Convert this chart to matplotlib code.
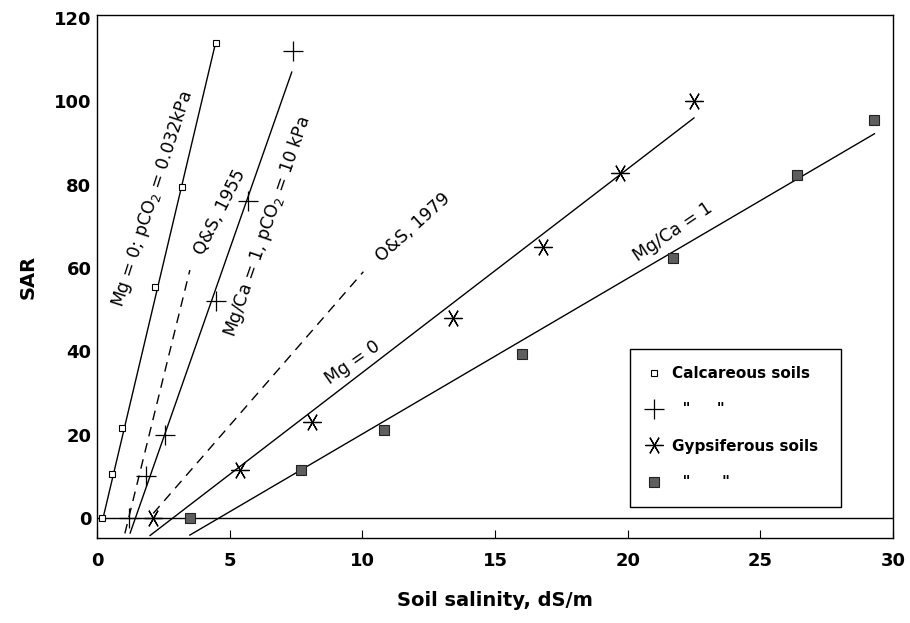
import matplotlib
matplotlib.use("Agg")
import matplotlib.pyplot as plt

plt.rcParams['font.family'] = ['DejaVu Sans']
plt.rcParams['mathtext.default'] = 'regular'

# ---- data ----
calc_sq_x = [0.2, 0.55, 0.95, 2.2, 3.2, 4.5]
calc_sq_y = [0, 10.5, 21.5, 55.5, 79.5, 114]
calc_plus_x = [1.2, 1.85, 2.55, 4.5, 5.7, 7.4]
calc_plus_y = [0, 10, 20, 52, 76, 112]
gyp_ast_x = [2.1, 5.4, 8.1, 13.4, 16.8, 19.7, 22.5]
gyp_ast_y = [0, 11.5, 23, 48, 65, 82.7, 100]
gyp_sq_x = [3.5, 7.7, 10.8, 16.0, 21.7, 26.4, 29.3]
gyp_sq_y = [0, 11.5, 21, 39.3, 62.5, 82.3, 95.4]

# fitted / reference lines (end points)
fit_calc_mg0_x = [0.24, 4.45]
fit_calc_mg0_y = [0.3, 113.5]
fit_calc_mgca_x = [1.25, 7.34]
fit_calc_mgca_y = [-3.6, 107]
qs1955_x = [1.05, 3.5]
qs1955_y = [-3.7, 59.5]
os1979_x = [2.12, 10.04]
os1979_y = [1.1, 59.1]
fit_gyp_mg0_x = [2.0, 22.5]
fit_gyp_mg0_y = [-4.2, 96]
fit_gyp_mgca_x = [3.5, 29.3]
fit_gyp_mgca_y = [-4.1, 92.2]

annot_text = ["Mg = 0; pCO$_2$ = 0.032kPa", "Q&S, 1955",
              "Mg/Ca = 1, pCO$_2$ = 10 kPa", "O&S, 1979", "Mg = 0", "Mg/Ca = 1"]
annot_x = [2.1, 4.64, 6.41, 11.9, 9.65, 21.7]
annot_y = [76.5, 73.4, 70.0, 69.8, 37.4, 68.6]
annot_rot = [72, 63, 71, 42, 35, 34]

x_ticks = [0, 5, 10, 15, 20, 25, 30]
y_ticks = [0, 20, 40, 60, 80, 100, 120]

legend_labels = ["Calcareous soils", '  "     "', "Gypsiferous soils ", '  "      "']

# ---- figure ----
fig = plt.figure(figsize=(9.1, 6.23), dpi=100)
ax = fig.add_axes([97/910, 1-538/623, 796/910, 523/623])

lw = 1.0
ax.axhline(0, color='black', lw=lw, zorder=1)
ax.plot(fit_calc_mg0_x, fit_calc_mg0_y, color='black', lw=lw)
ax.plot(fit_calc_mgca_x, fit_calc_mgca_y, color='black', lw=lw)
ax.plot(qs1955_x, qs1955_y, color='black', lw=lw, dashes=(7, 5))
ax.plot(os1979_x, os1979_y, color='black', lw=lw, dashes=(7, 5))
ax.plot(fit_gyp_mg0_x, fit_gyp_mg0_y, color='black', lw=lw)
ax.plot(fit_gyp_mgca_x, fit_gyp_mgca_y, color='black', lw=lw)

h1, = ax.plot(calc_sq_x, calc_sq_y, ls='none', marker='s', ms=4, mfc='white',
              mec='black', mew=0.8, label=legend_labels[0], zorder=3)
h2, = ax.plot(calc_plus_x, calc_plus_y, ls='none', marker='+', ms=15,
              mec='black', mew=0.9, label=legend_labels[1], zorder=3)
h3, = ax.plot(gyp_ast_x, gyp_ast_y, ls='none', marker=(6, 2, 90), ms=13,
              mec='black', mew=0.9, label=legend_labels[2], zorder=3)
h4, = ax.plot(gyp_sq_x, gyp_sq_y, ls='none', marker='s', ms=7, mfc='#5e5e5e',
              mec='#222222', mew=0.8, label=legend_labels[3], zorder=3)

for t, x, y, r in zip(annot_text, annot_x, annot_y, annot_rot):
    ax.text(x, y, t, rotation=r, rotation_mode='anchor', ha='center',
            va='center', fontsize=12.5, color='black')

ax.set_xlim(0, 30)
ax.set_ylim(-4.8, 120.7)
ax.set_xticks(x_ticks)
ax.set_yticks(y_ticks)
ax.tick_params(axis='x', direction='in', length=6, width=0.8, pad=10,
               labelsize=13)
ax.tick_params(axis='y', length=0, pad=4, labelsize=13)
for lab in ax.get_xticklabels() + ax.get_yticklabels():
    lab.set_fontweight('bold')
for s in ax.spines.values():
    s.set_linewidth(1.0)

ax.set_xlabel("Soil salinity, dS/m", fontsize=14, fontweight='bold', labelpad=15)
ax.set_ylabel("SAR", fontsize=14, fontweight='bold', labelpad=12)

leg = ax.legend(handles=[h1, h2, h3, h4], loc='upper left',
                bbox_to_anchor=(0.670, 0.361),
                prop={'weight': 'bold', 'size': 11},
                frameon=True, fancybox=False, edgecolor='black', framealpha=1,
                borderpad=1.1, labelspacing=1.4, handlelength=0.9,
                handletextpad=0.75, borderaxespad=0)
leg.get_frame().set_linewidth(1.0)

fig.savefig("out.png", dpi=100)
